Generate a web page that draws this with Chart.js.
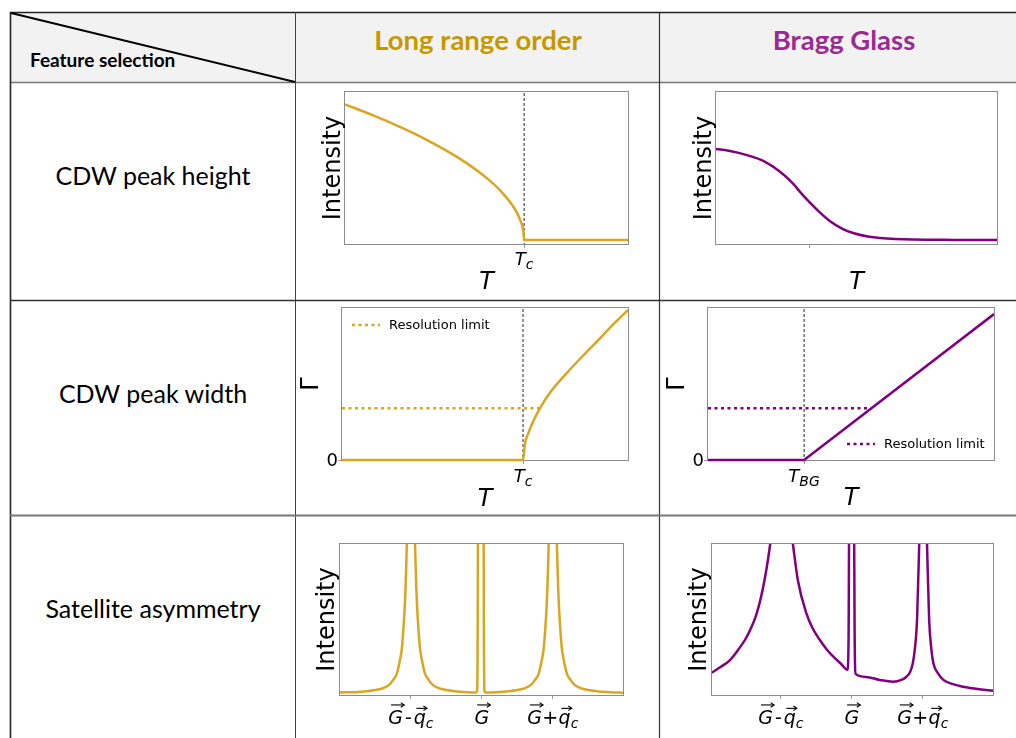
<!DOCTYPE html>
<html>
<head>
<meta charset="utf-8">
<script src="https://cdn.jsdelivr.net/npm/chart.js@4"></script>
<style>
  body { margin: 0; width: 1016px; height: 738px; position: relative; overflow: hidden; background: #fff; }
  canvas { position: absolute; }
  svg { position: absolute; left: 0; top: 0; }
</style>
</head>
<body>
<svg width="1016" height="738" font-family="Lato, 'Open Sans', sans-serif">
  <rect x="11" y="13" width="1005" height="69" fill="#f2f2f2"/>
  <line x1="10" y1="12.5" x2="1016" y2="12.5" stroke="#222" stroke-width="1.6"/>
  <line x1="10" y1="82.5" x2="1016" y2="82.5" stroke="#777" stroke-width="1.4"/>
  <line x1="10.5" y1="12" x2="10.5" y2="738" stroke="#222" stroke-width="1.6"/>
  <line x1="295.5" y1="12" x2="295.5" y2="738" stroke="#444" stroke-width="1"/>
  <line x1="659.5" y1="12" x2="659.5" y2="738" stroke="#333" stroke-width="1.2"/>
  <line x1="10" y1="300.5" x2="1016" y2="300.5" stroke="#333" stroke-width="1.5"/>
  <line x1="10" y1="515.5" x2="1016" y2="515.5" stroke="#777" stroke-width="2"/>
  <line x1="11" y1="13" x2="295" y2="82" stroke="#000" stroke-width="2"/>
  <text x="30" y="67" font-size="19" font-weight="bold" fill="#000">Feature selection</text>
  <text x="478" y="50" font-size="27.5" font-weight="bold" fill="#c69800" text-anchor="middle">Long range order</text>
  <text x="844" y="50" font-size="27.5" font-weight="bold" fill="#9a2a92" text-anchor="middle">Bragg Glass</text>
  <text x="153" y="185" font-size="25" fill="#000" text-anchor="middle">CDW peak height</text>
  <text x="153" y="403" font-size="25" fill="#000" text-anchor="middle">CDW peak width</text>
  <text x="153" y="618" font-size="25" fill="#000" text-anchor="middle">Satellite asymmetry</text>
</svg>
<canvas id="c1" width="362" height="216" style="left:296px;top:83px"></canvas>
<canvas id="c2" width="356" height="216" style="left:660px;top:83px"></canvas>
<canvas id="c3" width="362" height="213" style="left:296px;top:301px"></canvas>
<canvas id="c4" width="356" height="213" style="left:660px;top:301px"></canvas>
<canvas id="c5" width="362" height="221" style="left:296px;top:517px"></canvas>
<canvas id="c6" width="356" height="221" style="left:660px;top:517px"></canvas>
<script>
// ---- data (arbitrary units) ----
const tcLro = 6.33;
const tBg = 3.36;
const resLevel = 0.34;

// peak height vs T, long range order
const lroHeightT = [0, 1, 2, 3, 4, 5, 5.5, 6, 6.2, 6.3, 6.33, 10];
const lroHeightI = [0.919, 0.846, 0.765, 0.674, 0.568, 0.435, 0.349, 0.23, 0.154, 0.087, 0.026, 0.026];

// peak height vs T, Bragg glass
const bgHeightT = [0, 0.5, 1.1, 1.7, 2.28, 2.7, 3.1, 3.6, 4.06, 4.5, 4.88, 5.4, 5.84, 7, 8.5, 10];
const bgHeightI = [0.625, 0.612, 0.585, 0.545, 0.475, 0.405, 0.32, 0.225, 0.15, 0.1, 0.072, 0.049, 0.039, 0.029, 0.027, 0.026];

// peak width vs T, long range order
const lroWidthT = [0, 6.33, 6.4, 6.5, 6.7, 6.92, 7.3, 7.87, 8.5, 9.02, 9.5, 10];
const lroWidthG = [0, 0, 0.11, 0.17, 0.26, 0.34, 0.45, 0.575, 0.7, 0.8, 0.895, 0.987];
const lroResT = [0, 6.92];

// peak width vs T, Bragg glass
const bgWidthT = [0, 3.36, 10];
const bgWidthG = [0, 0, 0.96];
const bgResT = [0, 5.6];

// satellite profiles, long range order
const satLroQ = [-2, -1.8, -1.62, -1.5, -1.39, -1.3, -1.25, -1.2, -1.155, -1.13, -1.11, -1.09, -1.075, -1.06, -1,
  -0.94, -0.925, -0.91, -0.89, -0.87, -0.845, -0.8, -0.75, -0.7, -0.61, -0.5, -0.38, -0.2, -0.08,
  -0.066, -0.058, -0.054, 0.024, 0.028, 0.036, 0.05,
  0.2, 0.38, 0.5, 0.61, 0.7, 0.75, 0.8, 0.845, 0.87, 0.89, 0.91, 0.925, 0.94, 1,
  1.06, 1.075, 1.09, 1.11, 1.13, 1.155, 1.2, 1.25, 1.3, 1.39, 1.5, 1.62, 1.8, 1.99];
const satLroI = [0.017, 0.019, 0.025, 0.033, 0.046, 0.07, 0.1, 0.14, 0.23, 0.3, 0.41, 0.56, 0.72, 0.96, 2,
  0.96, 0.72, 0.56, 0.41, 0.3, 0.23, 0.14, 0.1, 0.07, 0.046, 0.033, 0.025, 0.019, 0.017,
  0.03, 0.5, 1.3, 1.3, 0.5, 0.03, 0.017,
  0.019, 0.025, 0.033, 0.046, 0.07, 0.1, 0.14, 0.23, 0.3, 0.41, 0.56, 0.72, 0.96, 2,
  0.96, 0.72, 0.56, 0.41, 0.3, 0.23, 0.14, 0.1, 0.07, 0.046, 0.033, 0.025, 0.019, 0.015];

// satellite profiles, Bragg glass
const satBgQ = [-1.97, -1.85, -1.72, -1.6, -1.48, -1.34, -1.23, -1.15, -1, -0.83, -0.76, -0.64, -0.55, -0.45, -0.35, -0.26, -0.16,
  -0.06, -0.045, -0.035, 0.03, 0.04, 0.055,
  0.2, 0.39, 0.58, 0.7, 0.77, 0.82, 0.86, 0.89, 0.92, 0.95, 1, 1.06, 1.09, 1.12, 1.15, 1.22, 1.29, 1.4, 1.57, 1.8, 1.99];
const satBgI = [0.148, 0.185, 0.23, 0.3, 0.386, 0.54, 0.76, 1, 1.6, 1, 0.76, 0.54, 0.44, 0.364, 0.3, 0.254, 0.21,
  0.168, 0.4, 1.3, 1.3, 0.4, 0.14,
  0.12, 0.1, 0.088, 0.1, 0.121, 0.15, 0.21, 0.31, 0.5, 1, 2, 1, 0.5, 0.31, 0.21, 0.14, 0.1, 0.075, 0.055, 0.038, 0.028];

const satTicks = [-1, 0, 1];

const GOLD = '#daa520';
const PURPLE = '#800080';
const FONT = '"DejaVu Sans", sans-serif';

function curve(xs, ys, color, extra) {
  return Object.assign({
    data: xs.map((x, i) => ({ x: x, y: ys[i] })),
    borderColor: color, borderWidth: 2.5, pointRadius: 0,
    cubicInterpolationMode: 'monotone', fill: false
  }, extra || {});
}

function vline(x, extra) {
  return Object.assign({
    data: [{ x: x, y: -1 }, { x: x, y: 5 }],
    borderColor: '#222', borderWidth: 1, borderDash: [3, 2], pointRadius: 0, fill: false
  }, extra || {});
}

function hdots(xs, level, color) {
  return {
    data: xs.map(x => ({ x: x, y: level })),
    borderColor: color, borderWidth: 2.5, borderDash: [3, 3.5], pointRadius: 0, fill: false
  };
}

function axis(min, max, ticks, dim) {
  return {
    type: 'linear', min: min, max: max,
    afterBuildTicks: s => { s.ticks = ticks.map(v => ({ value: v })); },
    afterFit: s => { s[dim] = 0; },
    ticks: { display: false },
    grid: { drawOnChartArea: false, drawTicks: true, tickLength: 4, color: '#999', lineWidth: 1 },
    border: { display: false }
  };
}

function drawMath(ctx, parts, cx, y, size) {
  const font = p => (p.it ? 'italic ' : '') + (p.sub ? Math.round(size * 0.75) : size) + 'px ' + FONT;
  let total = 0;
  const widths = parts.map(p => {
    ctx.font = font(p);
    const w = ctx.measureText(p.t).width + (p.gap ? 2 * p.gap * size : 0);
    total += w;
    return w;
  });
  let x = cx - total / 2;
  ctx.fillStyle = '#000';
  ctx.strokeStyle = '#000';
  ctx.textAlign = 'left';
  ctx.textBaseline = 'alphabetic';
  parts.forEach((p, i) => {
    ctx.font = font(p);
    const gx = x + (p.gap ? p.gap * size : 0);
    const gw = ctx.measureText(p.t).width;
    ctx.fillText(p.t, gx, p.sub ? y + size * 0.22 : y);
    if (p.vec) {
      const ay = y - (p.low ? size * 0.56 : size * 0.74) - 5;
      const x0 = gx + size * 0.14, x1 = gx + gw + size * 0.06;
      ctx.lineWidth = 1.1;
      ctx.beginPath(); ctx.moveTo(x0, ay); ctx.lineTo(x1, ay); ctx.stroke();
      ctx.beginPath(); ctx.moveTo(x1 - 3.5, ay - 2.3); ctx.lineTo(x1, ay); ctx.lineTo(x1 - 3.5, ay + 2.3); ctx.stroke();
    }
    x += widths[i];
  });
}

const framePlugin = {
  id: 'frame',
  beforeDatasetsDraw(chart) {
    const { ctx, chartArea: a } = chart;
    ctx.save();
    ctx.strokeStyle = '#8c8c8c';
    ctx.lineWidth = 1;
    ctx.strokeRect(a.left - 0.5, a.top - 0.5, a.right - a.left + 1, a.bottom - a.top + 1);
    ctx.restore();
  }
};

const decorPlugin = {
  id: 'decor',
  afterDraw(chart, args, o) {
    const { ctx, chartArea: a } = chart;
    const xs = chart.scales.x, ys = chart.scales.y;
    ctx.save();
    ctx.fillStyle = '#000';
    if (o.yTitle) {
      ctx.save();
      ctx.translate(a.left + o.yTitle.dx, (a.top + a.bottom) / 2);
      ctx.rotate(-Math.PI / 2);
      ctx.font = '24px ' + FONT;
      ctx.textAlign = 'center';
      ctx.textBaseline = 'alphabetic';
      ctx.fillText(o.yTitle.text, 0, 0);
      ctx.restore();
    }
    if (o.xTitle) {
      ctx.font = 'italic 24px ' + FONT;
      ctx.textAlign = 'center';
      ctx.textBaseline = 'alphabetic';
      ctx.fillText(o.xTitle.text, (a.left + a.right) / 2, a.bottom + o.xTitle.dy);
    }
    (o.math || []).forEach(m => {
      drawMath(ctx, m.parts, xs.getPixelForValue(m.v), a.bottom + m.dy, m.size);
    });
    if (o.zero) {
      ctx.font = '18px ' + FONT;
      ctx.textAlign = 'right';
      ctx.textBaseline = 'middle';
      ctx.fillStyle = '#000';
      ctx.fillText('0', a.left - 4, ys.getPixelForValue(0) + 1);
    }
    if (o.legend) {
      const L = o.legend;
      const lx = L.right ? a.right + L.dx : a.left + L.dx;
      const ly = L.bottom ? a.bottom + L.dy : a.top + L.dy;
      ctx.strokeStyle = L.color;
      ctx.lineWidth = 2.5;
      ctx.setLineDash([3, 3.5]);
      ctx.beginPath(); ctx.moveTo(lx, ly); ctx.lineTo(lx + 28, ly); ctx.stroke();
      ctx.setLineDash([]);
      ctx.font = '13px ' + FONT;
      ctx.textAlign = 'left';
      ctx.textBaseline = 'middle';
      ctx.fillStyle = '#000';
      ctx.fillText(L.text, lx + 37, ly + 1);
    }
    ctx.restore();
  }
};

function makeChart(id, datasets, o) {
  return new Chart(document.getElementById(id), {
    type: 'line',
    data: { datasets: datasets },
    options: {
      responsive: false, animation: false, events: [],
      layout: { padding: o.pad },
      plugins: { legend: { display: false }, tooltip: { enabled: false }, decor: o.decor },
      scales: {
        x: axis(o.x[0], o.x[1], o.xTicks, 'height'),
        y: axis(o.y[0], o.y[1], o.yTicks, 'width')
      }
    },
    plugins: [framePlugin, decorPlugin]
  });
}

const T_c = [{ t: 'T', it: 1 }, { t: 'c', it: 1, sub: 1 }];
const T_BG = [{ t: 'T', it: 1 }, { t: 'BG', it: 1, sub: 1 }];
const Gminus = [{ t: 'G', it: 1, vec: 1 }, { t: '-', gap: 0.1 }, { t: 'q', it: 1, vec: 1, low: 1 }, { t: 'c', it: 1, sub: 1 }];
const Gonly = [{ t: 'G', it: 1, vec: 1 }];
const Gplus = [{ t: 'G', it: 1, vec: 1 }, { t: '+', gap: 0.02 }, { t: 'q', it: 1, vec: 1, low: 1 }, { t: 'c', it: 1, sub: 1 }];
const bottomClip = { left: 0, top: 0, right: 0, bottom: 3 };

makeChart('c1', [
  curve(lroHeightT, lroHeightI, GOLD),
  vline(tcLro)
], {
  pad: { left: 49, top: 9, right: 30, bottom: 55 }, x: [0, 10], y: [0, 1], xTicks: [tcLro], yTicks: [],
  decor: { yTitle: { text: 'Intensity', dx: -5 }, xTitle: { text: 'T', dy: 45 },
    math: [{ v: tcLro, parts: T_c, size: 18, dy: 21 }] }
});

makeChart('c2', [
  curve(bgHeightT, bgHeightI, PURPLE)
], {
  pad: { left: 56, top: 9, right: 19, bottom: 55 }, x: [0, 10], y: [0, 1], xTicks: [3.31], yTicks: [],
  decor: { yTitle: { text: 'Intensity', dx: -5 }, xTitle: { text: 'T', dy: 45 } }
});

makeChart('c3', [
  curve(lroWidthT, lroWidthG, GOLD, { clip: bottomClip }),
  hdots(lroResT, resLevel, GOLD),
  vline(tcLro)
], {
  pad: { left: 46, top: 7, right: 30, bottom: 54 }, x: [0, 10], y: [0, 1], xTicks: [tcLro], yTicks: [0],
  decor: { yTitle: { text: 'Γ', dx: -24 }, xTitle: { text: 'T', dy: 46 }, zero: true,
    math: [{ v: tcLro, parts: T_c, size: 18, dy: 22 }],
    legend: { text: 'Resolution limit', color: GOLD, dx: 10, dy: 17 } }
});

makeChart('c4', [
  curve(bgWidthT, bgWidthG, PURPLE, { clip: bottomClip, cubicInterpolationMode: 'default', tension: 0 }),
  hdots(bgResT, resLevel, PURPLE),
  vline(tBg)
], {
  pad: { left: 48, top: 7, right: 22, bottom: 54 }, x: [0, 10], y: [0, 1], xTicks: [tBg], yTicks: [0],
  decor: { yTitle: { text: 'Γ', dx: -24 }, xTitle: { text: 'T', dy: 45 }, zero: true,
    math: [{ v: tBg, parts: T_BG, size: 18, dy: 22 }],
    legend: { text: 'Resolution limit', color: PURPLE, right: 1, bottom: 1, dx: -147, dy: -16 } }
});

makeChart('c5', [
  curve(satLroQ, satLroI, GOLD)
], {
  pad: { left: 44, top: 27, right: 35, bottom: 43 }, x: [-2, 1.99], y: [0, 1], xTicks: satTicks, yTicks: [],
  decor: { yTitle: { text: 'Intensity', dx: -6 },
    math: [{ v: -1, parts: Gminus, size: 19, dy: 29 }, { v: 0, parts: Gonly, size: 19, dy: 29 }, { v: 1, parts: Gplus, size: 19, dy: 29 }] }
});

makeChart('c6', [
  curve(satBgQ, satBgI, PURPLE)
], {
  pad: { left: 52, top: 27, right: 23, bottom: 43 }, x: [-1.97, 1.99], y: [0, 1], xTicks: satTicks, yTicks: [],
  decor: { yTitle: { text: 'Intensity', dx: -6 },
    math: [{ v: -1, parts: Gminus, size: 19, dy: 29 }, { v: 0, parts: Gonly, size: 19, dy: 29 }, { v: 1, parts: Gplus, size: 19, dy: 29 }] }
});
</script>
</body>
</html>
